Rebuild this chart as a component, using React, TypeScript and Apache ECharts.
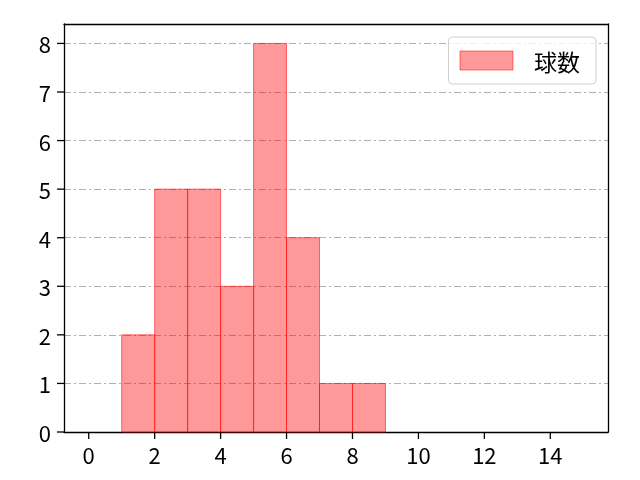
import { useEffect, useRef } from 'react';
import * as echarts from 'echarts';

// histogram bins (left edge, right edge) and counts
const binStarts = [1, 2, 3, 4, 5, 6, 7, 8];
const binEnds = [2, 3, 4, 5, 6, 7, 8, 9];
const counts = [2, 5, 5, 3, 8, 4, 1, 1];
const xTicks = [0, 2, 4, 6, 8, 10, 12, 14];
const yTicks = [0, 1, 2, 3, 4, 5, 6, 7, 8];
const seriesName = '球数';

const FONT = '"Noto Sans CJK JP", "Noto Sans", sans-serif';
const X_MIN = -0.75;
const X_MAX = 15.75;
const Y_MAX = 8.4;
const TICK_LEN = 7;

const frameLine = () => ({ show: true, onZero: false, lineStyle: { color: '#000', width: 1.3 } });

export default function App() {
  const ref = useRef<HTMLDivElement>(null);

  useEffect(() => {
    if (!ref.current) return;
    const chart = echarts.init(ref.current, null, { renderer: 'svg' });
    const data = binStarts.map((s, i) => [s, binEnds[i], counts[i]]);
    chart.setOption({
      animation: false,
      grid: { left: 64, top: 24, right: 32, bottom: 48 },
      legend: {
        right: 44,
        top: 37,
        data: [
          {
            name: seriesName,
            icon: 'rect',
            itemStyle: { color: 'rgba(255,0,0,0.4)', borderColor: 'rgba(255,0,0,0.5)', borderWidth: 1 },
          },
        ],
        itemWidth: 53,
        itemHeight: 19,
        padding: [12, 16, 12, 11],
        borderColor: '#d0d0d0',
        borderWidth: 1,
        borderRadius: 4,
        backgroundColor: 'rgba(255,255,255,0.8)',
        textStyle: { fontSize: 23, color: '#000', fontFamily: FONT, padding: [0, 0, 0, 16] },
      },
      xAxis: [
        {
          type: 'value',
          position: 'bottom',
          min: X_MIN,
          max: X_MAX,
          axisLine: frameLine(),
          axisTick: { show: false },
          axisLabel: { customValues: xTicks, fontSize: 22, color: '#000', margin: 11, fontFamily: FONT },
          splitLine: { show: false },
        },
        {
          type: 'value',
          position: 'top',
          min: X_MIN,
          max: X_MAX,
          axisLine: frameLine(),
          axisTick: { show: false },
          axisLabel: { show: false },
          splitLine: { show: false },
        },
      ],
      yAxis: [
        {
          type: 'value',
          position: 'left',
          min: 0,
          max: Y_MAX,
          interval: 1,
          axisLine: frameLine(),
          axisTick: { show: false },
          axisLabel: { customValues: yTicks, fontSize: 22, color: '#000', margin: 13, fontFamily: FONT },
          splitLine: { show: true, lineStyle: { color: '#b0b0b0', width: 1, type: [7, 3, 2, 3] } },
        },
        {
          type: 'value',
          position: 'right',
          min: 0,
          max: Y_MAX,
          axisLine: frameLine(),
          axisTick: { show: false },
          axisLabel: { show: false },
          splitLine: { show: false },
        },
      ],
      series: [
        {
          name: seriesName,
          type: 'custom',
          xAxisIndex: 0,
          yAxisIndex: 0,
          encode: { x: [0, 1], y: 2 },
          data,
          renderItem: (_params: any, api: any) => {
            const p0 = api.coord([api.value(0), api.value(2)]);
            const p1 = api.coord([api.value(1), 0]);
            return {
              type: 'rect',
              shape: { x: p0[0], y: p0[1], width: p1[0] - p0[0], height: p1[1] - p0[1] },
              style: { fill: 'rgba(255,0,0,0.4)', stroke: 'rgba(255,0,0,0.55)', lineWidth: 1 },
            };
          },
        },
      ],
    });

    // tick marks, placed through the axes' own scales
    const tickStyle = { stroke: '#000', lineWidth: 1.3 };
    const ticks: any[] = [];
    xTicks.forEach((v) => {
      const [px, py] = chart.convertToPixel({ xAxisIndex: 0, yAxisIndex: 0 }, [v, 0]) as number[];
      ticks.push({ type: 'line', silent: true, z: 10, shape: { x1: px, y1: py, x2: px, y2: py + TICK_LEN }, style: tickStyle });
    });
    yTicks.forEach((v) => {
      const [px, py] = chart.convertToPixel({ xAxisIndex: 0, yAxisIndex: 0 }, [X_MIN, v]) as number[];
      ticks.push({ type: 'line', silent: true, z: 10, shape: { x1: px - TICK_LEN, y1: py, x2: px, y2: py }, style: tickStyle });
    });
    chart.setOption({ graphic: ticks });

    return () => {
      chart.dispose();
    };
  }, []);

  return <div ref={ref} style={{ position: 'fixed', left: 0, top: 0, width: 640, height: 480 }} />;
}
